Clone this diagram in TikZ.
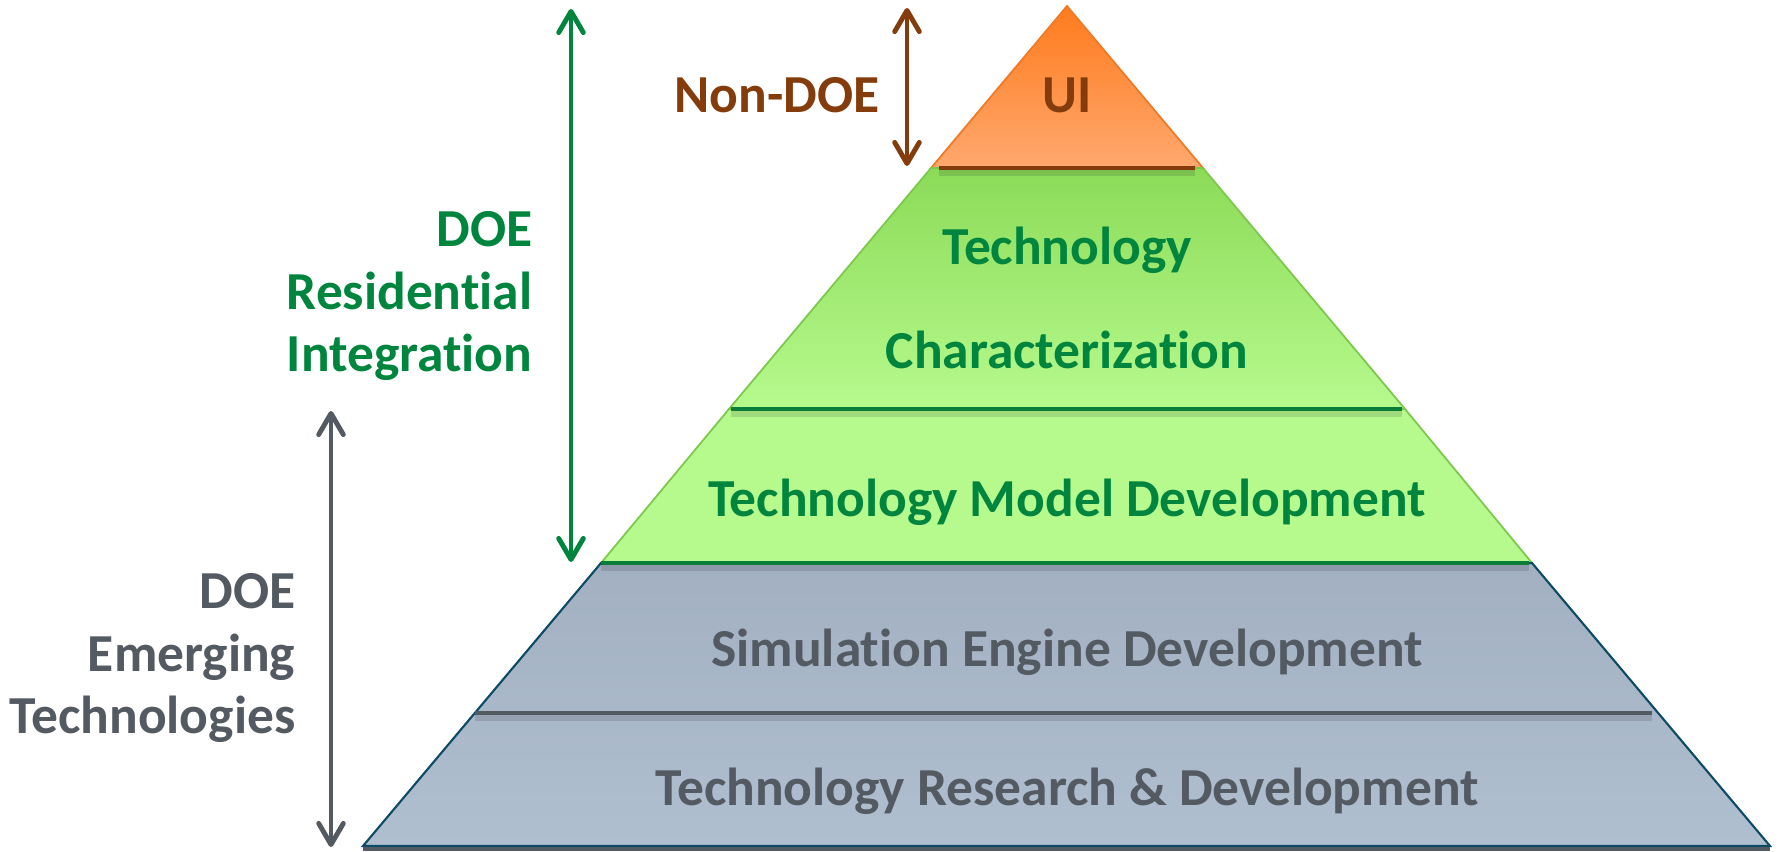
\documentclass[tikz,border=0pt]{standalone}
\usepackage{fontspec}
\setmainfont{Carlito}[Ligatures=NoCommon]
\usetikzlibrary{arrows.meta}
\definecolor{uibrown}{HTML}{843C0C}
\definecolor{uitop}{HTML}{FF7B1C}
\definecolor{uibot}{HTML}{FFA86F}
\definecolor{uiedge}{HTML}{EE7A28}
\definecolor{doegreen}{HTML}{00853E}
\definecolor{chartop}{HTML}{8CDB58}
\definecolor{charbot}{HTML}{B6FA8E}
\definecolor{greenedge}{HTML}{7CC84C}
\definecolor{greenline}{HTML}{0A7D38}
\definecolor{doegray}{HTML}{535A62}
\definecolor{simtop}{HTML}{A2B0C1}
\definecolor{simbot}{HTML}{B0BFD0}
\definecolor{grayedge}{HTML}{0D4A66}
\tikzset{
  lbl/.style={font=\bfseries\fontsize{15.2}{17.8}\selectfont, inner sep=0pt},
  span/.style={line width=1.4pt, line cap=round,
    {Straight Barb[length=6pt,width=7pt,round]}-{Straight Barb[length=6pt,width=7pt,round]}},
  tierline/.style={line width=1.4pt,
    preaction={draw=black, opacity=.12, line width=2.2pt, transform canvas={yshift=-1.1pt}}}
}
\begin{document}
\begin{tikzpicture}[x=0.01cm,y=-0.01cm]
  \useasboundingbox (0,0) rectangle (1779,852);
  \shade[top color=uitop, bottom color=uibot, draw=uiedge, line width=0.5pt]
    (1067,6) -- (1203,168) -- (931,168) -- cycle;
  \shade[top color=chartop, bottom color=charbot, draw=greenedge, line width=0.5pt]
    (931,168) -- (1203,168) -- (1405,409) -- (729,409) -- cycle;
  \fill[charbot, draw=greenedge, line width=0.5pt]
    (729,409) -- (1405,409) -- (1532,563) -- (601,563) -- cycle;
  \shade[top color=simtop, bottom color=simbot, draw=grayedge, line width=0.6pt]
    (601,563) -- (1532,563) -- (1770,846) -- (363,846) -- cycle;
  \draw[tierline, uibrown] (939,168) -- (1195,168);
  \draw[tierline, greenline] (731,409) -- (1402,409);
  \draw[tierline, greenline] (601,563) -- (1529,563);
  \draw[tierline, doegray] (475,713) -- (1652,713);
  \draw[line width=1.4pt, doegray] (363,849) -- (1770,849);
  \node[lbl, text=uibrown, anchor=base] (ui) at (1067,113) {UI};
  \node[lbl, text=doegreen, anchor=base] (techchar1) at (1067,265) {Technology};
  \node[lbl, text=doegreen, anchor=base] (techchar2) at (1067,369) {Characterization};
  \node[lbl, text=doegreen, anchor=base] (modeldev) at (1067,516) {Technology Model Development};
  \node[lbl, text=doegray, anchor=base] (simeng) at (1067,666) {Simulation Engine Development};
  \node[lbl, text=doegray, anchor=base] (techrd) at (1067,805) {Technology Research \& Development};
  \node[lbl, text=uibrown, anchor=north east] (nondoe) at (880,77) {Non-DOE};
  \node[lbl, text=doegreen, anchor=north east, align=right] (resint) at (533,211) {DOE\\Residential\\Integration};
  \node[lbl, text=doegray, anchor=north east, align=right] (emerg) at (296,573) {DOE\\Emerging\\Technologies};
  \coordinate (nd-top) at (907,8);
  \coordinate (nd-bot) at (907,166);
  \coordinate (ri-top) at (571,9);
  \coordinate (ri-bot) at (571,562);
  \coordinate (et-top) at (331,411);
  \coordinate (et-bot) at (331,847);
  \draw[span, uibrown] (nd-top) -- (nd-bot);
  \draw[span, doegreen] (ri-top) -- (ri-bot);
  \draw[span, doegray] (et-top) -- (et-bot);
\end{tikzpicture}
\end{document}
